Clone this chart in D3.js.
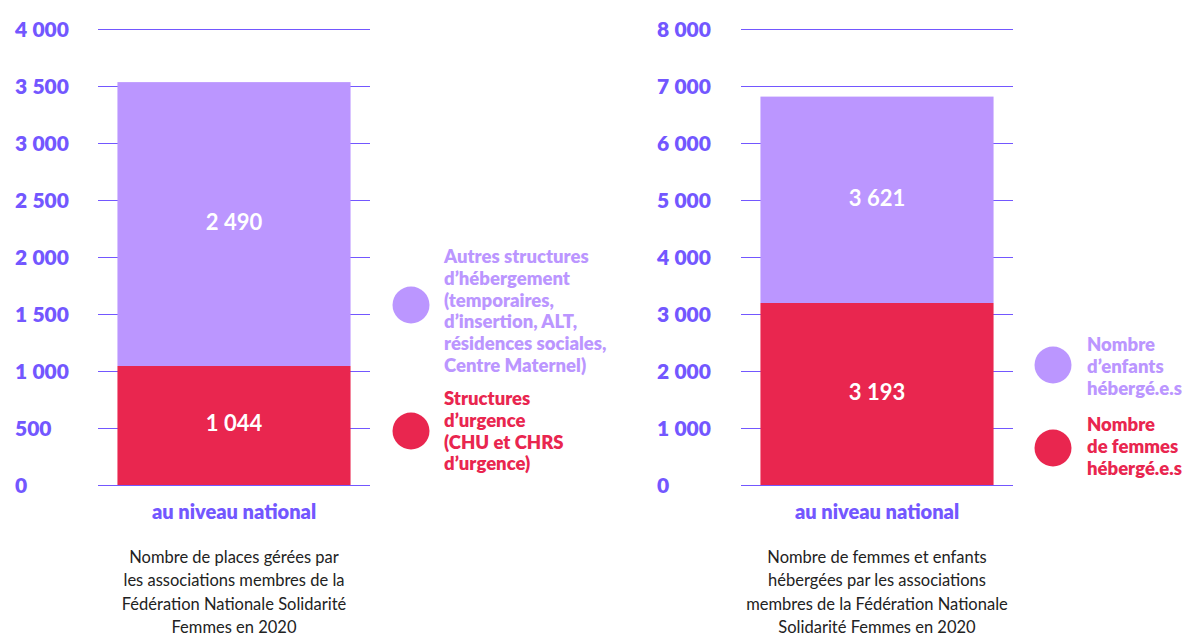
<!DOCTYPE html>
<html>
<head>
<meta charset="utf-8">
<script src="https://cdn.jsdelivr.net/npm/d3@7"></script>
<style>
  body { margin: 0; background: #fff; }
  svg { display: block; font-family: Lato, "Open Sans", sans-serif; }
</style>
</head>
<body>
<div id="chart"></div>
<script>
// data
const category = 'au niveau national';
const placesSeries = ['Structures d\u2019urgence', 'Autres structures'];
const placesValues = [1044, 2490];
const placesTicks = [0, 500, 1000, 1500, 2000, 2500, 3000, 3500, 4000];
const hebergSeries = ['Nombre de femmes', 'Nombre d\u2019enfants'];
const hebergValues = [3193, 3621];
const hebergTicks = [0, 1000, 2000, 3000, 4000, 5000, 6000, 7000, 8000];
const placesLegend = [
    ['Structures', 'd\u2019urgence', '(CHU et CHRS', 'd\u2019urgence)'],
    ['Autres structures', 'd\u2019h\u00e9bergement', '(temporaires,', 'd\u2019insertion, ALT,', 'r\u00e9sidences sociales,', 'Centre Maternel)']
];
const hebergLegend = [
    ['Nombre', 'de femmes', 'h\u00e9berg\u00e9.e.s'],
    ['Nombre', 'd\u2019enfants', 'h\u00e9berg\u00e9.e.s']
];
const placesCaption = ['Nombre de places g\u00e9r\u00e9es par', 'les associations membres de la', 'F\u00e9d\u00e9ration Nationale Solidarit\u00e9', 'Femmes en 2020'];
const hebergCaption = ['Nombre de femmes et enfants', 'h\u00e9berg\u00e9es par les associations', 'membres de la F\u00e9d\u00e9ration Nationale', 'Solidarit\u00e9 Femmes en 2020'];

const colors = ['#e9264f', '#bb96ff'];
const axisColor = '#7357ff';
const fmt = v => d3.format(',')(v).replace(/,/g, '\u202f');

const svg = d3.select('#chart').append('svg')
    .attr('width', 1186)
    .attr('height', 638);

function drawPanel(opt) {
    const g = svg.append('g');
    const y = d3.scaleLinear().domain([0, d3.max(opt.ticks)]).range([485, 29]);
    const x = d3.scaleBand().domain([category]).range([opt.x0, opt.x1]).padding(0.077);

    // gridlines
    g.selectAll('line.grid').data(opt.ticks).enter().append('line')
        .attr('x1', opt.x0).attr('x2', opt.x1)
        .attr('y1', d => y(d) + 0.5).attr('y2', d => y(d) + 0.5)
        .attr('stroke', axisColor).attr('stroke-width', 1);

    // tick labels
    g.selectAll('text.tick').data(opt.ticks).enter().append('text')
        .attr('x', opt.labelX).attr('y', d => y(d) + 8)
        .attr('fill', axisColor)
        .attr('font-size', 21).attr('font-weight', 800)
        .text(d => fmt(d));

    // stacked segments
    let base = 0;
    const segs = opt.values.map((v, i) => {
        const s = { y0: base, y1: base + v, v: v, i: i };
        base += v;
        return s;
    });
    g.selectAll('rect.seg').data(segs).enter().append('rect')
        .attr('x', x(category)).attr('width', x.bandwidth())
        .attr('y', d => y(d.y1)).attr('height', d => y(d.y0) - y(d.y1))
        .attr('fill', d => colors[d.i]);
    g.selectAll('text.val').data(segs).enter().append('text')
        .attr('x', x(category) + x.bandwidth() / 2)
        .attr('y', d => (y(d.y0) + y(d.y1)) / 2 + 6)
        .attr('text-anchor', 'middle')
        .attr('fill', '#fff').attr('font-size', 22).attr('font-weight', 700)
        .text(d => fmt(d.v));

    // category label
    g.append('text')
        .attr('x', x(category) + x.bandwidth() / 2).attr('y', 519)
        .attr('text-anchor', 'middle')
        .attr('fill', axisColor).attr('font-size', 20).attr('font-weight', 800)
        .text(category);

    // caption
    g.append('text')
        .attr('text-anchor', 'middle')
        .attr('fill', '#222').attr('font-size', 16.5)
        .selectAll('tspan').data(opt.caption).enter().append('tspan')
        .attr('x', x(category) + x.bandwidth() / 2)
        .attr('y', (d, i) => 563 + i * 23.3)
        .text(d => d);

    // legend
    opt.legend.forEach((lines, i) => {
        const L = opt.legendPos[i];
        g.append('circle').attr('cx', L.cx).attr('cy', L.cy).attr('r', 18.5)
            .attr('fill', colors[i]);
        g.append('text')
            .attr('fill', colors[i]).attr('font-size', 18.5).attr('font-weight', 800)
            .selectAll('tspan').data(lines).enter().append('tspan')
            .attr('x', L.tx).attr('y', (d, j) => L.ty + j * 21.8)
            .text(d => d);
    });
}

drawPanel({
    x0: 98, x1: 370, labelX: 15,
    ticks: placesTicks, values: placesValues,
    caption: placesCaption, legend: placesLegend,
    legendPos: [
        { cx: 411, cy: 431, tx: 444, ty: 405 },
        { cx: 411, cy: 305, tx: 444, ty: 263 }
    ]
});

drawPanel({
    x0: 741, x1: 1013, labelX: 657,
    ticks: hebergTicks, values: hebergValues,
    caption: hebergCaption, legend: hebergLegend,
    legendPos: [
        { cx: 1053, cy: 448, tx: 1087, ty: 431 },
        { cx: 1053, cy: 365, tx: 1087, ty: 351 }
    ]
});
</script>
</body>
</html>
